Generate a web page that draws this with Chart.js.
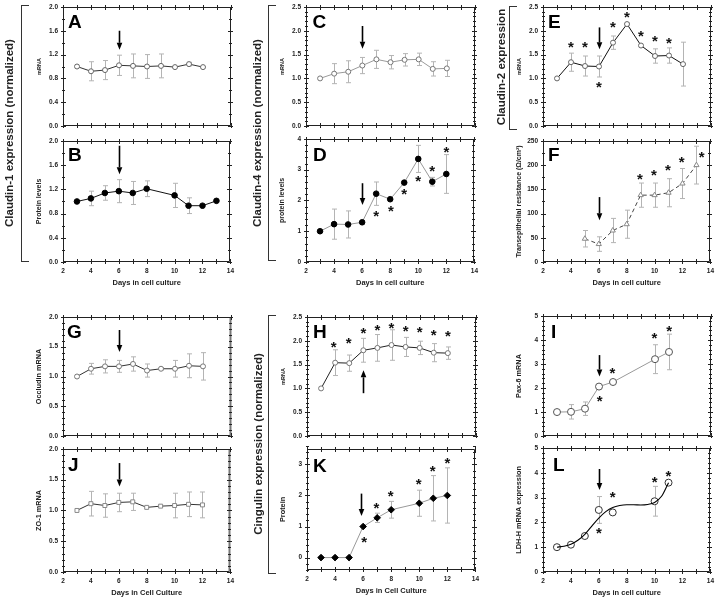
<!DOCTYPE html>
<html><head><meta charset="utf-8">
<script src="https://cdn.jsdelivr.net/npm/chart.js@4.4.1/dist/chart.umd.min.js"></script>
<style>
body{margin:0;background:#fff;}
#wrap{position:relative;width:719px;height:601px;overflow:hidden;font-family:"Liberation Sans",Arial,sans-serif;background:#fff;}
canvas{position:absolute;}
.br{position:absolute;border:1.5px solid #333;border-right:none;width:7px;}
.bl{position:absolute;font-weight:bold;font-size:11.5px;color:#222;white-space:nowrap;transform:translate(-50%,-50%) rotate(-90deg);}
</style></head>
<body><div id="wrap"></div>
<script>
// ---------- data ----------
const xTickVals = [2,4,6,8,10,12,14];
const ticksA = [0,0.4,0.8,1.2,1.6,2.0];
const ticksC = [0,0.5,1,1.5,2,2.5];
const ticksD = [0,1,2,3,4];
const ticksF = [0,50,100,150,200,250];
const ticksG = [0,0.5,1,1.5,2];
const ticksK = [0,1,2,3];
const ticksI = [0,1,2,3,4,5];

// A: Claudin-1 mRNA
const daysA = [3,4,5,6,7,8,9,10,11,12];
const mrnaA = [1.0,0.92,0.94,1.02,1.01,1.0,1.01,0.99,1.04,0.99];
const errA  = [0,0.16,0.16,0.17,0.2,0.2,0.2,0,0.03,0];
const arrowA = [6,1.6,1.28];
// B: Claudin-1 protein
const daysB = [3,4,5,6,7,8,10,11,12,13];
const protB = [1.0,1.05,1.14,1.17,1.14,1.21,1.10,0.93,0.93,1.01];
const errB  = [0,0.12,0.12,0.19,0.19,0.13,0.2,0.13,0,0];
const arrowB = [6,1.92,1.45];
// C: Claudin-4 mRNA
const daysC = [3,4,5,6,7,8,9,10,11,12];
const mrnaC = [1.0,1.10,1.14,1.27,1.40,1.34,1.39,1.40,1.20,1.21];
const errC  = [0,0.21,0.23,0.17,0.19,0.14,0.13,0.13,0.15,0.17];
const arrowC = [6,2.1,1.62];
// D: Claudin-4 protein
const daysD = [3,4,5,6,7,8,9,10,11,12];
const protD = [1.0,1.23,1.22,1.29,2.22,2.04,2.58,3.35,2.61,2.86];
const errD  = [0,0.49,0.44,0.06,0.38,0.03,0.03,0.44,0.14,0.63];
const starsDx = [7,8.05,9,10,11,12];
const starsDy = [1.58,1.74,2.29,2.73,3.05,3.66];
const arrowD = [6,2.56,1.85];
// E: Claudin-2 mRNA
const daysE = [3,4,5,6,7,8,9,10,11,12];
const mrnaE = [1.0,1.34,1.26,1.25,1.75,2.14,1.69,1.47,1.48,1.30];
const errE  = [0,0.19,0.21,0.22,0.14,0.02,0,0.15,0.16,0.46];
const starsEx = [4,5,6,7,8,9,10,11];
const starsEy = [1.71,1.71,0.88,2.14,2.34,1.95,1.83,1.79];
const arrowE = [6,2.07,1.61];
// F: transepithelial resistance
const daysF = [5,6,7,8,9,10,11,12,13];
const terF  = [48,37,65,78,138,138,143,162,200];
const errF  = [17,15,25,29,25,25,29,31,39];
const starsFx = [8.95,9.95,10.95,11.95,13.38];
const starsFy = [177,186,195,211,222];
const arrowF = [6,134,86];
// G: Occludin mRNA
const daysG = [3,4,5,6,7,8,9,10,11,12];
const occG  = [1.0,1.13,1.17,1.17,1.21,1.10,1.13,1.13,1.18,1.17];
const errG  = [0,0.09,0.11,0.10,0.12,0.11,0.02,0.14,0.20,0.23];
const arrowG = [6,1.78,1.41];
// J: ZO-1 mRNA
const daysJ = [3,4,5,6,7,8,9,10,11,12];
const zoJ   = [1.0,1.11,1.08,1.13,1.14,1.05,1.07,1.08,1.10,1.09];
const errJ  = [0,0.2,0.19,0.15,0.14,0,0,0.2,0.2,0.21];
const arrowJ = [6,1.77,1.39];
// H: Cingulin mRNA
const daysH = [3,4,5,6,7,8,9,10,11,12];
const mrnaH = [1.0,1.54,1.53,1.80,1.85,1.91,1.87,1.85,1.75,1.74];
const errH  = [0,0.27,0.17,0.25,0.28,0.32,0.2,0.14,0.19,0.13];
const starsHx = [3.9,4.95,6,7,8,9,10,11,12];
const starsHy = [1.93,2.0,2.21,2.28,2.33,2.26,2.23,2.18,2.15];
const arrowH = [6,0.9,1.38];
// K: Cingulin protein
const daysK = [3,4,5,6,7,8,10,11,12];
const protK = [0,0,0,1.0,1.28,1.54,1.75,1.91,2.0];
const errK  = [0,0,0,0,0.15,0.27,0.42,0.73,0.89];
const starsKx = [6.07,6.95,7.96,9.95,10.95,12];
const starsKy = [0.59,1.68,2.06,2.44,2.87,3.13];
const arrowK = [5.85,2.06,1.34];
// I: Pax-6 mRNA
const daysI = [3,4,5,6,7,10,11];
const paxI  = [1.0,1.01,1.14,2.06,2.25,3.2,3.5];
const errI  = [0,0.3,0.28,0,0,0.6,0.74];
const starsIx = [6.04,6.96,9.96,11.02];
const starsIy = [1.59,2.75,4.18,4.5];
const arrowI = [6,3.37,2.48];
// L: LDH-H mRNA
const daysL = [3,4,5,6,7,10,11];
const ldhL  = [1.0,1.1,1.45,2.5,2.4,2.85,3.6];
const errL  = [0,0,0,0.54,0,0.6,0];
const curveDaysL = [3,3.5,4,4.5,5,5.5,6,6.5,7,7.5,8,8.5,9,9.5,10,10.5,11];
const curveL     = [1.0,1.04,1.12,1.28,1.52,1.85,2.17,2.43,2.6,2.68,2.71,2.71,2.7,2.72,2.8,3.05,3.6];
const starsLx = [6,7,10,11];
const starsLy = [1.67,3.14,3.75,3.97];
const arrowL = [6,4.15,3.3];

// ---------- drawing ----------
const FONT = '"Liberation Sans", Arial, sans-serif';
const wrap = document.getElementById('wrap');

function makePlugin(cfg){
  return {
    id:'panelDeco'+cfg.letter,
    beforeDatasetsDraw(chart){
      const ctx = chart.ctx, x = chart.scales.x, y = chart.scales.y;
      ctx.save(); ctx.strokeStyle = '#b4b4b4'; ctx.lineWidth = 1;
      cfg.xs.forEach((xv,i)=>{
        const e = cfg.err[i]; if(!e) return;
        const px = Math.round(x.getPixelForValue(xv))+0.5;
        const a = y.getPixelForValue(cfg.ys[i]+e), b = y.getPixelForValue(cfg.ys[i]-e);
        ctx.beginPath();
        ctx.moveTo(px,a); ctx.lineTo(px,b);
        ctx.moveTo(px-2.5,a); ctx.lineTo(px+2.5,a);
        ctx.moveTo(px-2.5,b); ctx.lineTo(px+2.5,b);
        ctx.stroke();
      });
      ctx.restore();
    },
    afterDraw(chart){
      const ctx = chart.ctx, a = chart.chartArea, x = chart.scales.x, y = chart.scales.y;
      ctx.save();
      const L = Math.round(a.left)+0.5, R = Math.round(a.right)-0.5, T = Math.round(a.top)+0.5, B = Math.round(a.bottom)-0.5;
      ctx.strokeStyle = '#222'; ctx.lineWidth = 1;
      ctx.beginPath(); ctx.moveTo(R,T); ctx.lineTo(L,T); ctx.lineTo(L,B); ctx.lineTo(R,B); ctx.stroke();
      if (cfg.thickRight){ ctx.strokeStyle = '#777'; ctx.lineWidth = 2; ctx.beginPath(); ctx.moveTo(R,T); ctx.lineTo(R,B); ctx.stroke(); }
      else { ctx.beginPath(); ctx.moveTo(R,T); ctx.lineTo(R,B); ctx.stroke(); }
      ctx.strokeStyle = '#222'; ctx.lineWidth = 1;
      ctx.beginPath();
      for (let v = 2; v <= 14; v++){
        const px = Math.round(x.getPixelForValue(v))+0.5;
        ctx.moveTo(px,B-2.5); ctx.lineTo(px,B+2.5);
        ctx.moveTo(px,T-2.5); ctx.lineTo(px,T+2.5);
      }
      const n = Math.round((cfg.yMax-cfg.yMin)/cfg.yMinor);
      for (let k = 0; k <= n; k++){
        const v = cfg.yMin + k*cfg.yMinor;
        const py = Math.round(y.getPixelForValue(v))+0.5;
        ctx.moveTo(L-1.5,py); ctx.lineTo(L+1.5,py);
        ctx.moveTo(R-1.5,py); ctx.lineTo(R+1.5,py);
      }
      cfg.yTicks.forEach(v=>{
        const py = Math.round(y.getPixelForValue(v))+0.5;
        ctx.moveTo(L-2.5,py); ctx.lineTo(L+2.5,py);
        ctx.moveTo(R-2.5,py); ctx.lineTo(R+2.5,py);
      });
      ctx.stroke();
      // letter
      ctx.fillStyle = '#000';
      ctx.font = 'bold 19px ' + FONT;
      ctx.textAlign = 'left'; ctx.textBaseline = 'alphabetic';
      ctx.fillText(cfg.letter, a.left + cfg.lx, a.top + cfg.ly);
      // arrow
      if (cfg.arrow){
        const px = Math.round(x.getPixelForValue(cfg.arrow[0]))+0.5;
        const y1 = y.getPixelForValue(cfg.arrow[1]), y2 = y.getPixelForValue(cfg.arrow[2]);
        const dir = Math.sign(y2-y1), head = 7;
        ctx.strokeStyle = '#000'; ctx.lineWidth = 1.6;
        ctx.beginPath(); ctx.moveTo(px,y1); ctx.lineTo(px,y2-dir*head); ctx.stroke();
        ctx.beginPath(); ctx.moveTo(px,y2); ctx.lineTo(px-2.8,y2-dir*head); ctx.lineTo(px+2.8,y2-dir*head); ctx.closePath(); ctx.fill();
      }
      // stars
      if (cfg.sx){
        ctx.font = 'bold 15px ' + FONT; ctx.textAlign = 'center'; ctx.textBaseline = 'middle'; ctx.fillStyle = '#111';
        cfg.sx.forEach((sv,i)=>{
          ctx.fillText('*', x.getPixelForValue(sv), y.getPixelForValue(cfg.sy[i]) + 3.5);
        });
      }
      ctx.restore();
    }
  };
}

function panel(cfg){
  const [pl,pt,pr,pb] = cfg.box;
  const LW = 60, TP = 8, RP = 8, HB = cfg.xTitle ? 34 : 8;
  const w = pr-pl+LW+RP, h = pb-pt+TP+HB;
  const cv = document.createElement('canvas');
  cv.width = w; cv.height = h;
  cv.style.left = (pl-LW)+'px'; cv.style.top = (pt-TP)+'px';
  cv.style.width = w+'px'; cv.style.height = h+'px';
  wrap.appendChild(cv);
  const datasets = [];
  if (cfg.cx){
    datasets.push({data: cfg.cx.map((v,i)=>({x:v,y:cfg.cy[i]})), borderColor:'#000', borderWidth:1.1,
      pointRadius:0, cubicInterpolationMode:'monotone', showLine:true, fill:false, clip:false});
  }
  datasets.push({
    data: cfg.xs.map((v,i)=>({x:v,y:cfg.ys[i]})),
    showLine: !cfg.noLine, borderColor: cfg.line || '#333', borderWidth: 1, borderDash: cfg.dash || [],
    pointStyle: cfg.marker || 'circle', pointRadius: cfg.r || 2.5,
    pointBackgroundColor: cfg.fill || '#fff', pointBorderColor: cfg.edge || '#666', pointBorderWidth: 1,
    tension: 0, fill:false, clip:false
  });
  const tickFont = {family:FONT, size:6.5, weight:'bold'};
  new Chart(cv, {
    type:'line',
    data:{datasets},
    plugins:[makePlugin(cfg)],
    options:{
      responsive:false, animation:false, devicePixelRatio:1,
      layout:{padding:{top:TP,right:RP,left:0,bottom:0}},
      plugins:{legend:{display:false}, tooltip:{enabled:false}},
      scales:{
        x:{type:'linear', min:2, max:14,
          afterBuildTicks:s=>{ s.ticks = xTickVals.map(v=>({value:v})); },
          afterFit:s=>{ s.height = HB; },
          grid:{display:false, drawTicks:false}, border:{display:false},
          ticks:{display:!!cfg.xTitle, autoSkip:false, maxRotation:0, padding:5, color:'#222', font:tickFont},
          title:{display:!!cfg.xTitle, text:cfg.xTitle || '', color:'#222', font:{family:FONT,size:7.5,weight:'bold'}, padding:{top:0,bottom:8.5}}
        },
        y:{type:'linear', min:cfg.yMin, max:cfg.yMax,
          afterBuildTicks:s=>{ s.ticks = cfg.yTicks.map(v=>({value:v})); },
          afterFit:s=>{ s.width = LW; },
          grid:{display:false, drawTicks:false}, border:{display:false},
          ticks:{autoSkip:false, padding:5, color:'#222', font:tickFont, callback:v=>Number(v).toFixed(cfg.dec)},
          title:{display:true, text:cfg.yTitle, color:'#222', font:{family:FONT,size:cfg.ytSize,weight:'bold'},
                 padding:{top: LW - 24 - cfg.ytSize*0.6, bottom:0}}
        }
      }
    }
  });
}

panel({letter:'A', box:[63,6,231,127], lx:5, ly:21, xs:daysA, ys:mrnaA, err:errA, yMin:0, yMax:2, yTicks:ticksA, yMinor:0.2, dec:1,
  yTitle:'mRNA', ytSize:5.5, line:'#333', edge:'#666', r:2.5, arrow:arrowA});
panel({letter:'B', box:[63,140,231,262], lx:5, ly:20, xs:daysB, ys:protB, err:errB, yMin:0, yMax:2, yTicks:ticksA, yMinor:0.2, dec:1,
  yTitle:'Protein levels', ytSize:7, line:'#111', fill:'#000', edge:'#000', r:2.8, arrow:arrowB, xTitle:'Days in cell culture'});
panel({letter:'C', box:[306,6,475,127], lx:6.5, ly:21, xs:daysC, ys:mrnaC, err:errC, yMin:0, yMax:2.5, yTicks:ticksC, yMinor:0.1, dec:1,
  yTitle:'mRNA', ytSize:5.5, line:'#9a9a9a', edge:'#777', r:2.5, arrow:arrowC});
panel({letter:'D', box:[306,138,475,262], lx:7, ly:22, xs:daysD, ys:protD, err:errD, yMin:0, yMax:4, yTicks:ticksD, yMinor:0.2, dec:0,
  yTitle:'protein levels', ytSize:7, line:'#999', fill:'#000', edge:'#000', r:2.8, arrow:arrowD, sx:starsDx, sy:starsDy, xTitle:'Days in cell culture'});
panel({letter:'E', box:[543,6,711,127], lx:5, ly:21, xs:daysE, ys:mrnaE, err:errE, yMin:0, yMax:2.5, yTicks:ticksC, yMinor:0.1, dec:1,
  yTitle:'mRNA', ytSize:5.5, line:'#111', edge:'#666', r:2.5, arrow:arrowE, sx:starsEx, sy:starsEy});
panel({letter:'F', box:[543,140,711,262], lx:5, ly:20, xs:daysF, ys:terF, err:errF, yMin:0, yMax:250, yTicks:ticksF, yMinor:25, dec:0,
  yTitle:'Transepithelial resistance (Ω/cm²)', ytSize:7, line:'#444', dash:[4,3], marker:'triangle', r:3, edge:'#888', arrow:arrowF,
  sx:starsFx, sy:starsFy, xTitle:'Days in cell culture'});
panel({letter:'G', box:[63,316,231,437], lx:4, ly:21, xs:daysG, ys:occG, err:errG, yMin:0, yMax:2, yTicks:ticksG, yMinor:0.1, dec:1,
  yTitle:'Occludin mRNA', ytSize:7.3, line:'#333', edge:'#777', r:2.5, arrow:arrowG, thickRight:true});
panel({letter:'J', box:[63,448,231,572], lx:5, ly:22, xs:daysJ, ys:zoJ, err:errJ, yMin:0, yMax:2, yTicks:ticksG, yMinor:0.1, dec:1,
  yTitle:'ZO-1 mRNA', ytSize:7.3, line:'#333', marker:'rect', edge:'#888', r:2.8, arrow:arrowJ, thickRight:true, xTitle:'Days in Cell Culture'});
panel({letter:'H', box:[307,316,476,437], lx:6, ly:21, xs:daysH, ys:mrnaH, err:errH, yMin:0, yMax:2.5, yTicks:ticksC, yMinor:0.1, dec:1,
  yTitle:'mRNA', ytSize:5.5, line:'#222', edge:'#777', r:2.5, arrow:arrowH, sx:starsHx, sy:starsHy});
panel({letter:'K', box:[307,448,476,570], lx:6, ly:23, xs:daysK, ys:protK, err:errK, yMin:-0.4, yMax:3.5, yTicks:ticksK, yMinor:0.2, dec:0,
  yTitle:'Protein', ytSize:7.3, line:'#999', marker:'rectRot', fill:'#000', edge:'#000', r:3.3, arrow:arrowK, sx:starsKx, sy:starsKy,
  xTitle:'Days in Cell Culture'});
panel({letter:'I', box:[543,315,711,437], lx:8, ly:22, xs:daysI, ys:paxI, err:errI, yMin:0, yMax:5, yTicks:ticksI, yMinor:0.2, dec:0,
  yTitle:'Pax-6 mRNA', ytSize:7.3, line:'#999', edge:'#555', r:3.5, arrow:arrowI, sx:starsIx, sy:starsIy});
panel({letter:'L', box:[543,447,711,572], lx:10, ly:23, xs:daysL, ys:ldhL, err:errL, yMin:0, yMax:5, yTicks:ticksI, yMinor:0.2, dec:0,
  yTitle:'LDH-H mRNA expression', ytSize:7.3, noLine:true, edge:'#333', r:3.5, arrow:arrowL, sx:starsLx, sy:starsLy,
  cx:curveDaysL, cy:curveL, xTitle:'Days in cell culture'});

// brackets and group labels
const brackets = [[21,5,255],[268,5,254],[509,6,122],[268,315,257]];
brackets.forEach(b=>{
  const d = document.createElement('div'); d.className='br';
  d.style.left=b[0]+'px'; d.style.top=b[1]+'px'; d.style.height=b[2]+'px';
  wrap.appendChild(d);
});
const groupLabels = [['Claudin-1 expression (normalized)',8.5,133],['Claudin-4 expression (normalized)',256.5,133],
  ['Claudin-2 expression',501,67],['Cingulin expression (normalized)',257.5,444]];
groupLabels.forEach(g=>{
  const d = document.createElement('div'); d.className='bl'; d.textContent = g[0];
  d.style.left=g[1]+'px'; d.style.top=g[2]+'px';
  wrap.appendChild(d);
});
</script></body></html>
